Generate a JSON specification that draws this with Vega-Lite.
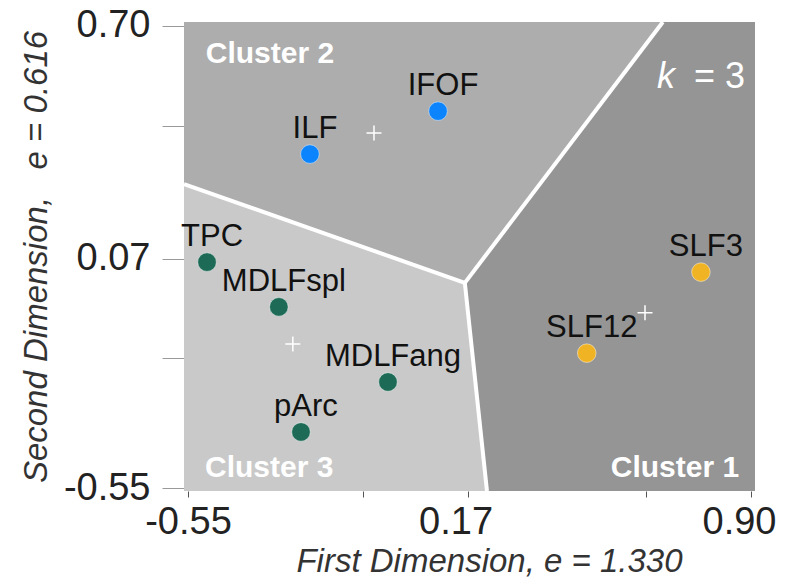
{
  "$schema": "https://vega.github.io/schema/vega-lite/v6.json",
  "width": 571,
  "height": 469,
  "autosize": {"type": "none"},
  "padding": {"left": 184, "top": 22, "right": 32, "bottom": 93},
  "background": "white",
  "config": {"view": {"stroke": null}, "font": "Liberation Sans"},
  "datasets": {
    "regions": [
      {"region": "2", "order": 1, "x": -0.5603, "y": 0.71},
      {"region": "2", "order": 2, "x": 0.673, "y": 0.71},
      {"region": "2", "order": 3, "x": 0.163, "y": 0.005},
      {"region": "2", "order": 4, "x": -0.5603, "y": 0.272},
      {"region": "1", "order": 1, "x": 0.673, "y": 0.71},
      {"region": "1", "order": 2, "x": 0.9103, "y": 0.71},
      {"region": "1", "order": 3, "x": 0.9103, "y": -0.5576},
      {"region": "1", "order": 4, "x": 0.22, "y": -0.5576},
      {"region": "1", "order": 5, "x": 0.163, "y": 0.005},
      {"region": "3", "order": 1, "x": -0.5603, "y": 0.272},
      {"region": "3", "order": 2, "x": 0.163, "y": 0.005},
      {"region": "3", "order": 3, "x": 0.22, "y": -0.5576},
      {"region": "3", "order": 4, "x": -0.5603, "y": -0.5576}
    ],
    "borders": [
      {"x": 0.163, "y": 0.005, "x2": -0.5603, "y2": 0.272},
      {"x": 0.163, "y": 0.005, "x2": 0.673, "y2": 0.71},
      {"x": 0.163, "y": 0.005, "x2": 0.22, "y2": -0.5576}
    ],
    "tracts": [
      {"name": "IFOF", "cluster": "2", "x": 0.094, "y": 0.469},
      {"name": "ILF", "cluster": "2", "x": -0.236, "y": 0.353},
      {"name": "TPC", "cluster": "3", "x": -0.501, "y": 0.061},
      {"name": "MDLFspl", "cluster": "3", "x": -0.316, "y": -0.06},
      {"name": "MDLFang", "cluster": "3", "x": -0.035, "y": -0.263},
      {"name": "pArc", "cluster": "3", "x": -0.259, "y": -0.398},
      {"name": "SLF3", "cluster": "1", "x": 0.771, "y": 0.034},
      {"name": "SLF12", "cluster": "1", "x": 0.477, "y": -0.185}
    ],
    "centroids": [
      {"cluster": "2", "x": -0.071, "y": 0.41},
      {"cluster": "3", "x": -0.28, "y": -0.16},
      {"cluster": "1", "x": 0.627, "y": -0.076}
    ],
    "clusterLabels": [
      {"text": "Cluster 2", "x": -0.339, "y": 0.599},
      {"text": "Cluster 3", "x": -0.341, "y": -0.52},
      {"text": "Cluster 1", "x": 0.704, "y": -0.52}
    ]
  },
  "encoding": {
    "x": {
      "field": "x",
      "type": "quantitative",
      "scale": {"domain": [-0.5603, 0.9103], "nice": false, "zero": false},
      "axis": {
        "title": "First Dimension, e = 1.330",
        "values": [-0.55, -0.1, 0.17, 0.629, 0.9],
        "labelExpr": "datum.value == -0.55 ? '-0.55' : datum.value == 0.17 ? '0.17' : datum.value == 0.9 ? '0.90' : ''",
        "grid": false,
        "domain": false,
        "tickSize": 6,
        "tickColor": "#555555",
        "labelFontSize": 38,
        "labelColor": "#222222",
        "labelPadding": 6,
        "labelFlush": false,
        "labelOverlap": false,
        "labelOffset": {"condition": {"test": "datum.value == 0.17 || datum.value == 0.9", "value": -12}, "value": 0},
        "titleFontSize": 33,
        "titleFontStyle": "italic",
        "titleFontWeight": "normal",
        "titleColor": "#333333",
        "titlePadding": 4,
        "titleX": 305
      }
    },
    "y": {
      "field": "y",
      "type": "quantitative",
      "scale": {"domain": [-0.5576, 0.71], "nice": false, "zero": false},
      "axis": {
        "title": "Second Dimension,\u00a0\u00a0 e = 0.616",
        "values": [0.7, 0.429, 0.07, -0.198, -0.55],
        "labelExpr": "datum.value == 0.7 ? '0.70' : datum.value == 0.07 ? '0.07' : datum.value == -0.55 ? '-0.55' : ''",
        "grid": false,
        "domain": false,
        "tickSize": 22,
        "tickColor": "#999999",
        "labelFontSize": 38,
        "labelColor": "#222222",
        "labelPadding": 12,
        "labelFlush": false,
        "labelOverlap": false,
        "titleFontSize": 33,
        "titleFontStyle": "italic",
        "titleFontWeight": "normal",
        "titleColor": "#333333",
        "titlePadding": 10
      }
    }
  },
  "layer": [
    {
      "data": {"name": "regions"},
      "transform": [{"filter": "datum.region == '2'"}],
      "mark": {"type": "line", "fill": "#adadad", "strokeOpacity": 0},
      "encoding": {"order": {"field": "order", "type": "quantitative"}}
    },
    {
      "data": {"name": "regions"},
      "transform": [{"filter": "datum.region == '1'"}],
      "mark": {"type": "line", "fill": "#959595", "strokeOpacity": 0},
      "encoding": {"order": {"field": "order", "type": "quantitative"}}
    },
    {
      "data": {"name": "regions"},
      "transform": [{"filter": "datum.region == '3'"}],
      "mark": {"type": "line", "fill": "#c9c9c9", "strokeOpacity": 0},
      "encoding": {"order": {"field": "order", "type": "quantitative"}}
    },
    {
      "data": {"name": "borders"},
      "mark": {"type": "rule", "color": "white", "strokeWidth": 4},
      "encoding": {
        "x2": {"field": "x2"},
        "y2": {"field": "y2"}
      }
    },
    {
      "data": {"name": "tracts"},
      "mark": {"type": "circle", "size": 346, "opacity": 1, "stroke": "#ffffff", "strokeOpacity": 0.45, "strokeWidth": 1},
      "encoding": {
        "color": {
          "field": "cluster",
          "type": "nominal",
          "scale": {"domain": ["1", "2", "3"], "range": ["#f0b323", "#0b84fe", "#1d6b56"]},
          "legend": null
        }
      }
    },
    {
      "data": {"name": "tracts"},
      "mark": {"type": "text", "align": "center", "baseline": "alphabetic", "dx": 5, "dy": -16, "fontSize": 31, "color": "#111111"},
      "encoding": {"text": {"field": "name"}}
    },
    {
      "data": {"name": "centroids"},
      "mark": {"type": "point", "shape": "M-1,0H1M0,-1V1", "size": 225, "filled": false, "stroke": "#ffffff", "strokeWidth": 1.5, "opacity": 1}
    },
    {
      "data": {"name": "clusterLabels"},
      "mark": {"type": "text", "align": "center", "baseline": "alphabetic", "fontSize": 30, "fontWeight": "bold", "color": "#ffffff"},
      "encoding": {"text": {"field": "text"}}
    },
    {
      "data": {"values": [{"text": "k", "x": 0.658, "y": 0.532}]},
      "mark": {"type": "text", "align": "left", "baseline": "alphabetic", "fontSize": 36, "fontStyle": "italic", "color": "#ffffff"},
      "encoding": {"text": {"field": "text"}}
    },
    {
      "data": {"values": [{"text": "= 3", "x": 0.8845, "y": 0.532}]},
      "mark": {"type": "text", "align": "right", "baseline": "alphabetic", "fontSize": 36, "color": "#ffffff"},
      "encoding": {"text": {"field": "text"}}
    }
  ]
}
